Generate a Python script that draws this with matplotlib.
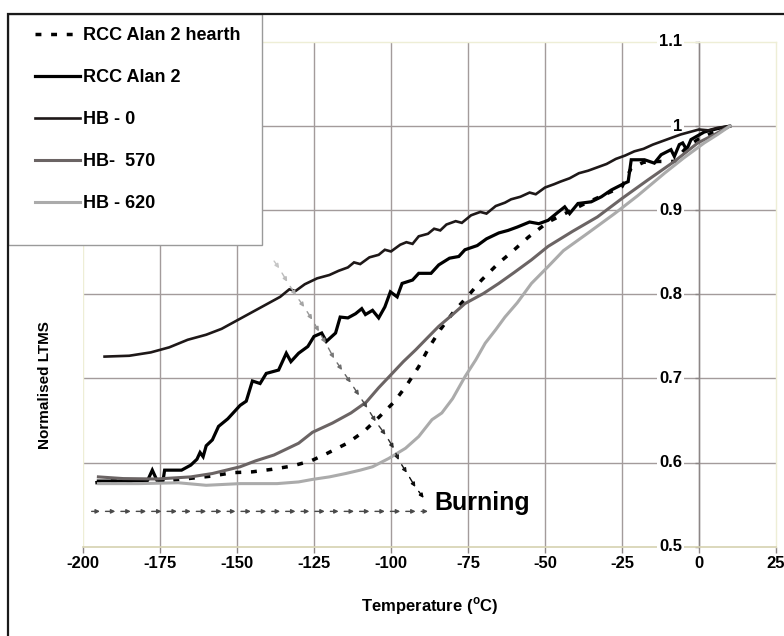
import numpy as np
import matplotlib
matplotlib.use('Agg')
import matplotlib.pyplot as plt
from matplotlib.lines import Line2D
from matplotlib.patches import Rectangle

plt.rcParams['font.family'] = ['Liberation Sans', 'DejaVu Sans']
plt.rcParams['font.weight'] = 'bold'
plt.rcParams['axes.unicode_minus'] = False
plt.rcParams['mathtext.fontset'] = 'custom'
plt.rcParams['mathtext.rm'] = 'Liberation Sans:bold'

# ---- data ----
hearth_t = [-196, -191, -184, -171, -158, -151.5, -145, -138.6, -132, -126, -120.7, -114.2, -108.8,
            -103.9, -99, -94.9, -91, -87.8, -84, -79.7, -74.8, -70.6, -65.1, -60.9, -55.4, -49,
            -43, -37, -31, -25, -22, -18, -13, -8, -4, 0, 5, 10]
hearth_v = [0.576, 0.578, 0.578, 0.579, 0.584, 0.588, 0.589, 0.592, 0.596, 0.602, 0.611, 0.623, 0.637,
            0.654, 0.672, 0.692, 0.714, 0.736, 0.758, 0.779, 0.799, 0.817, 0.837, 0.850, 0.868, 0.886,
            0.897, 0.908, 0.918, 0.928, 0.950, 0.957, 0.958, 0.958, 0.975, 0.985, 0.993, 1.0]

rcc_t = [-195, -186, -179, -177.5, -176, -174, -173.5, -168, -165, -163, -162, -161, -160, -158,
         -156, -153, -151, -149, -147, -145, -142.5, -140.5, -136.5, -134, -132.5, -130, -127, -125,
         -122.5, -121, -118, -116.5, -114, -111.5, -109.5, -108.3, -106, -104, -102, -100.2, -98,
         -96.4, -93, -91, -87, -84.5, -81, -78, -76, -72, -69, -65, -62, -59, -55, -52, -49, -46,
         -43.6, -42, -39.3, -35, -31.7, -28.5, -24.2, -23, -22, -17.7, -14.5, -12.3, -9.1, -8,
         -6.4, -5.3, -4, -2.6, 1.7, 6, 10]
rcc_v = [0.578, 0.578, 0.579, 0.591, 0.579, 0.579, 0.591, 0.591, 0.597, 0.604, 0.612, 0.607, 0.620, 0.627,
         0.643, 0.652, 0.660, 0.668, 0.673, 0.697, 0.694, 0.706, 0.710, 0.730, 0.720, 0.730, 0.738, 0.750,
         0.754, 0.744, 0.754, 0.773, 0.772, 0.777, 0.783, 0.776, 0.781, 0.772, 0.785, 0.803, 0.797,
         0.813, 0.817, 0.825, 0.825, 0.835, 0.843, 0.845, 0.853, 0.858, 0.866, 0.873, 0.876, 0.880,
         0.886, 0.884, 0.888, 0.897, 0.904, 0.896, 0.908, 0.910, 0.916, 0.924, 0.932, 0.934, 0.960,
         0.960, 0.956, 0.966, 0.972, 0.964, 0.978, 0.980, 0.972, 0.984, 0.993, 0.997, 1.0]

hb0_t = [-193, -185, -178, -172, -166, -160, -155, -150, -145, -140, -136, -133, -131, -128, -124,
         -120, -117, -114, -112, -110, -107, -104, -102, -100, -97, -95, -93, -91, -88, -86, -84,
         -82, -79, -77, -74, -71, -69, -66, -63, -61, -58, -55, -53, -50, -47, -45, -42, -39, -36,
         -33, -30, -27, -24, -21, -18, -15, -12, -9, -6, -3, 0, 3, 6, 10]
hb0_v = [0.726, 0.727, 0.731, 0.737, 0.746, 0.752, 0.759, 0.769, 0.779, 0.789, 0.797, 0.806, 0.804,
         0.812, 0.819, 0.823, 0.828, 0.832, 0.838, 0.836, 0.844, 0.847, 0.853, 0.851, 0.859, 0.862,
         0.860, 0.869, 0.872, 0.878, 0.876, 0.883, 0.887, 0.885, 0.894, 0.898, 0.896, 0.905, 0.909,
         0.913, 0.916, 0.921, 0.919, 0.927, 0.931, 0.934, 0.938, 0.944, 0.947, 0.951, 0.955, 0.961,
         0.965, 0.970, 0.973, 0.978, 0.982, 0.986, 0.990, 0.993, 0.996, 0.995, 0.998, 1.0]

hb570_t = [-195, -187, -176, -165, -158, -149, -144, -138, -130, -125.5, -119, -113, -108, -104,
           -99.6, -96, -92, -88, -84.5, -80, -76, -70, -65, -60, -54.4, -49, -41, -33, -25, -16.6,
           -8, -0.4, 5, 10]
hb570_v = [0.583, 0.581, 0.5805, 0.583, 0.587, 0.595, 0.602, 0.609, 0.623, 0.636, 0.647, 0.659, 0.672,
           0.689, 0.706, 0.720, 0.734, 0.749, 0.762, 0.776, 0.789, 0.801, 0.813, 0.826, 0.841, 0.857,
           0.875, 0.892, 0.914, 0.936, 0.958, 0.980, 0.990, 1.0]

hb620_t = [-195, -182, -169, -160, -149, -137, -130, -125.5, -120, -114.7, -110, -106, -100.7, -95.3,
           -91, -86.7, -83.5, -80, -76, -72.5, -69.4, -66, -63, -59, -54.4, -49, -44, -36, -27.4,
           -20, -11.2, -5, 1.7, 6, 10]
hb620_v = [0.575, 0.575, 0.576, 0.573, 0.575, 0.575, 0.577, 0.580, 0.583, 0.587, 0.591, 0.595, 0.605,
           0.617, 0.631, 0.651, 0.659, 0.676, 0.702, 0.722, 0.742, 0.758, 0.773, 0.790, 0.813, 0.833,
           0.852, 0.873, 0.896, 0.917, 0.944, 0.962, 0.980, 0.990, 1.0]

# "Burning" arrows
burn_t = [-139.0, -136.3, -133.7, -130.9, -128.2, -125.6, -123.4, -121.2, -118.5, -115.9, -113.1,
          -110.4, -107.7, -105.0, -101.8, -99.1, -97.5, -94.9, -92.1, -89.4]
burn_v = [0.845, 0.831, 0.815, 0.799, 0.785, 0.770, 0.756, 0.742, 0.724, 0.710, 0.695, 0.680, 0.665,
          0.649, 0.633, 0.617, 0.603, 0.588, 0.571, 0.558]
base_t = [-199, -194.5, -189.5, -184.5, -179.5, -174.5, -169.5, -165, -160, -155, -150.5, -145.5,
          -140.5, -136, -131, -126.5, -121.5, -117, -112, -107, -102, -97, -92, -88]
base_v = 0.542

labels = ['RCC Alan 2 hearth', 'RCC Alan 2', 'HB - 0', 'HB-  570', 'HB - 620']
x_ticks = [-200, -175, -150, -125, -100, -75, -50, -25, 0, 25]
y_ticks = [0.5, 0.6, 0.7, 0.8, 0.9, 1.0, 1.1]
y_tick_labels = ['0.5', '0.6', '0.7', '0.8', '0.9', '1', '1.1']

W, H = 784, 636
fig = plt.figure(figsize=(W / 100, H / 100), dpi=100)
fig.patch.set_facecolor('white')
ax = fig.add_axes([83 / W, 1 - 546.7 / H, (776 - 83) / W, (546.7 - 42) / H])
ax.set_xlim(-200, 25)
ax.set_ylim(0.5, 1.1)

grid_c = '#a39b9b'
ax.vlines(x_ticks[1:-1], 0.5, 1.1, colors=grid_c, lw=1.0, zorder=1)
ax.hlines(y_ticks[1:-1], -200, 25, colors=grid_c, lw=1.0, zorder=1)
ax.axvline(-200, color='#eeeed6', lw=1.0, zorder=1)

styles = [
    dict(color='black', lw=2.5, ls=(0, (1.7, 2.8))),
    dict(color='black', lw=2.3, ls='-'),
    dict(color='#1e1818', lw=1.9, ls='-'),
    dict(color='#6b6464', lw=2.2, ls='-'),
    dict(color='#ababab', lw=2.2, ls='-'),
]
series = [(hearth_t, hearth_v), (rcc_t, rcc_v), (hb0_t, hb0_v), (hb570_t, hb570_v), (hb620_t, hb620_v)]
for (t, v), st in zip(series, styles):
    ax.plot(t, v, zorder=3, solid_joinstyle='miter', **st)

# arrow trails
shades = np.linspace(0.82, 0.0, len(burn_t))
for i in range(1, len(burn_t)):
    c = str(shades[i])
    ax.annotate('', xy=(burn_t[i], burn_v[i]), xytext=(burn_t[i - 1], burn_v[i - 1]),
                arrowprops=dict(arrowstyle='-|>', color=c, lw=1.0, mutation_scale=6,
                                shrinkA=4, shrinkB=0), zorder=4)
for i in range(1, len(base_t)):
    ax.annotate('', xy=(base_t[i], base_v), xytext=(base_t[i - 1], base_v),
                arrowprops=dict(arrowstyle='-|>', color='#4a4a4a', lw=1.0, mutation_scale=6,
                                shrinkA=4, shrinkB=0), zorder=4)
ax.text(-86, 0.552, 'Burning', fontsize=18, fontweight='bold', ha='left', va='center', zorder=5)

# axes styling
for s in ['top', 'right']:
    ax.spines[s].set_color('#eeeed6')
    ax.spines[s].set_linewidth(1.0)
ax.spines['bottom'].set_color('#d6d2b0')
ax.spines['bottom'].set_linewidth(1.2)
ax.spines['left'].set_position(('data', 0))
ax.spines['left'].set_color('#8c8686')
ax.spines['left'].set_linewidth(1.0)
ax.set_xticks(x_ticks)
ax.set_yticks(y_ticks)
ax.set_yticklabels([])
ax.tick_params(axis='x', direction='out', length=4, width=1, color='#8c8686', labelsize=12, pad=3)
ax.tick_params(axis='y', direction='out', length=3, width=1, color='#8c8686')
for lab in ax.get_xticklabels():
    lab.set_fontweight('bold')

# y tick labels sit on white patches that break the grid lines (curves stay on top)
for v, lab in zip(y_ticks, y_tick_labels):
    ax.annotate(lab, xy=(0, v), xytext=(-12, 0), textcoords='offset points', ha='right',
                va='center', fontsize=12, fontweight='bold', zorder=2.7, annotation_clip=False,
                bbox=dict(facecolor='white', edgecolor='none', pad=1.5))

fig.text(45 / W, 1 - 385 / H, 'Normalised LTMS', rotation=90, ha='center', va='center',
         fontsize=11, fontweight='bold')
fig.text(430 / W, 1 - 606 / H, r'Temperature ($^{\mathrm{o}}$C)', ha='center', va='center',
         fontsize=12, fontweight='bold')

# legend box
fig.patches.append(Rectangle((8 / W, 1 - 245 / H), (262 - 8) / W, (245 - 14) / H,
                             transform=fig.transFigure, facecolor='white', edgecolor='#9a9a9a',
                             lw=1.0, zorder=2))
handles = [Line2D([], [], **st) for st in styles]
leg = fig.legend(handles, labels, loc='upper left', bbox_to_anchor=(22 / W, 1 - 14 / H),
                 frameon=False, fontsize=13, handlelength=2.5, handletextpad=0.15,
                 labelspacing=1.39, borderpad=0.72, borderaxespad=0)
leg.set_zorder(3)
for txt in leg.get_texts():
    txt.set_fontweight('bold')

# outer frame
fig.patches.append(Rectangle((8 / W, -0.2), 1.2, 1.2 - 14 / H, transform=fig.transFigure,
                             facecolor='none', edgecolor='#1a1a1a', lw=1.6, zorder=5))

fig.savefig('out.png', dpi=100)
